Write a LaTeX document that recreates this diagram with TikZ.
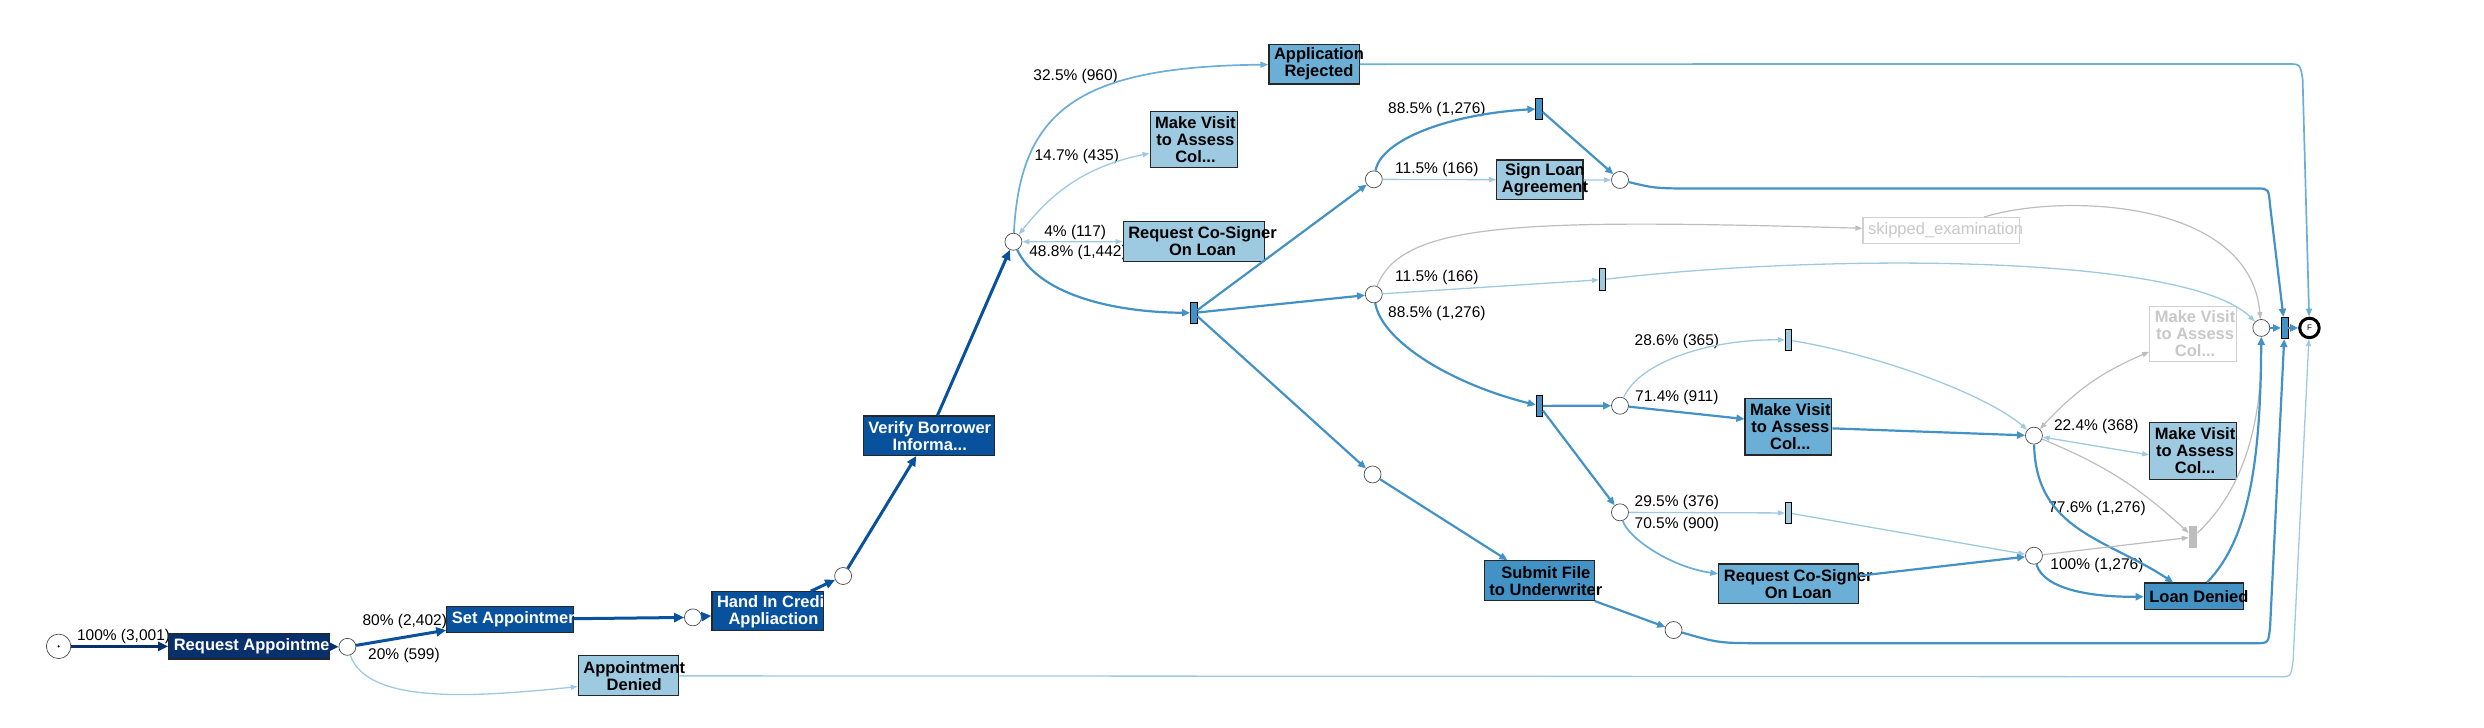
\documentclass[tikz,border=0pt]{standalone}
\usepackage{fontspec}
\setmainfont{Liberation Sans}
\usetikzlibrary{arrows.meta}
\definecolor{navy}{RGB}{8,48,107}
\definecolor{dblue}{RGB}{8,81,156}
\definecolor{mblue}{RGB}{66,146,198}
\definecolor{lblue}{RGB}{107,174,214}
\definecolor{pblue}{RGB}{158,202,225}
\definecolor{gline}{RGB}{189,189,189}
\definecolor{gtext}{RGB}{200,200,200}
\newcommand\boxfont{\fontsize{16.5}{17}\selectfont\bfseries}
\newcommand\lblfont{\fontsize{15.5}{17}\selectfont}
\tikzset{
  place/.style={circle, draw=black!70, fill=white, line width=0.7pt, minimum size=17pt, inner sep=0pt},
  bar/.style={rectangle, draw=black, line width=0.8pt, minimum width=6.5pt, minimum height=21.5pt, inner sep=0pt},
  task/.style={rectangle, draw=black!85, line width=1.2pt, inner sep=0pt},
  ghost/.style={rectangle, draw=black!18, fill=white, line width=1.2pt, inner sep=0pt},
  sz/.style 2 args={minimum width=#1pt, minimum height=#2pt},
  tasktext/.style={font=\boxfont, align=center, inner sep=0pt, anchor=west, xshift=5.5pt},
  txt/.style={label={[tasktext]180:#1}},
  wtxt/.style={label={[tasktext,text=white]180:#1}},
  gtxt/.style={label={[tasktext,text=gtext]180:#1}},
  lbl/.style={font=\lblfont, inner sep=0pt},
  e1/.style={draw=navy, line width=3.5pt, >={Triangle[length=10pt,width=9pt]}},
  e2/.style={draw=dblue, line width=3pt, >={Triangle[length=10pt,width=9pt]}},
  em/.style={draw=mblue, line width=2.2pt, >={Triangle[length=8pt,width=7pt]}},
  el/.style={draw=lblue, line width=1.7pt, >={Triangle[length=8pt,width=6pt]}},
  ep/.style={draw=pblue, line width=1.3pt, >={Triangle[length=7pt,width=5pt]}},
  eg/.style={draw=gline, line width=1.2pt, >={Triangle[length=7pt,width=5pt]}}
}
\begin{document}
\begin{tikzpicture}[x=1.5842pt,y=-1.5842pt]
\useasboundingbox (0,0) rectangle (1568,459.5);

\node[lbl] (l1) at (78,402) {100\% (3,001)};
\node[lbl] (l2) at (255.5,392.5) {80\% (2,402)};
\node[lbl] (l3) at (255,414) {20\% (599)};
\node[lbl] (l4) at (679,48) {32.5\% (960)};
\node[lbl] (l5) at (679.7,99) {14.7\% (435)};
\node[lbl] (l6) at (678.7,147) {4\% (117)};
\node[lbl] (l7) at (680.5,159.5) {48.8\% (1,442)};
\node[lbl] (l8) at (907,69) {88.5\% (1,276)};
\node[lbl] (l9) at (907,107.3) {11.5\% (166)};
\node[lbl] (l10) at (907,175.3) {11.5\% (166)};
\node[lbl] (l11) at (907,198) {88.5\% (1,276)};
\node[lbl] (l12) at (1058.5,215.5) {28.6\% (365)};
\node[lbl] (l13) at (1058.5,250.8) {71.4\% (911)};
\node[lbl] (l14) at (1058.5,317.3) {29.5\% (376)};
\node[lbl] (l15) at (1058.5,330.8) {70.5\% (900)};
\node[lbl] (l16) at (1323.2,269.4) {22.4\% (368)};
\node[lbl] (l17) at (1323.7,321) {77.6\% (1,276)};
\node[lbl] (l18) at (1323.7,356.7) {100\% (1,276)};

\node[task, sz={160.6}{25.3}, fill=navy, wtxt={Request Appointment}] (ra) at (157.2,408) {};
\node[task, sz={126.3}{26.6}, fill=dblue, wtxt={Set Appointment}] (sa) at (321.9,391) {};
\node[task, sz={111.8}{39.1}, fill=dblue, wtxt={Hand In Credit\\Appliaction}] (hi) at (484.7,385.9) {};
\node[task, sz={131}{39.4}, fill=dblue, wtxt={Verify Borrower\\Informa...}] (vb) at (586.2,275) {};
\node[task, sz={90.3}{39.6}, fill=lblue, txt={Application\\Rejected}] (ar) at (829.5,40.5) {};
\node[task, sz={87.1}{56.2}, fill=pblue, txt={Make Visit\\to Assess\\Col...}] (mvt) at (753.5,88.2) {};
\node[task, sz={141}{39.6}, fill=pblue, txt={Request Co-Signer\\On Loan}] (rct) at (753.5,152.5) {};
\node[task, sz={86.2}{39.6}, fill=pblue, txt={Sign Loan\\Agreement}] (sl) at (972,113.5) {};
\node[ghost, sz={156.8}{25.7}, label={[tasktext,font=\fontsize{16.5}{17}\selectfont,text=gtext]180:skipped\_examination}] (sk) at (1225.5,145.5) {};
\node[task, sz={110}{39.6}, fill=mblue, txt={Submit File\\to Underwriter}] (sf) at (971.7,366.5) {};
\node[task, sz={86.8}{56.6}, fill=lblue, txt={Make Visit\\to Assess\\Col...}] (mvm) at (1128.9,269.4) {};
\node[task, sz={139.4}{39.4}, fill=lblue, txt={Request Co-Signer\\On Loan}] (rcm) at (1129,368.5) {};
\node[ghost, sz={87.1}{55.6}, gtxt={Make Visit\\to Assess\\Col...}] (mvg) at (1384.5,210.8) {};
\node[task, sz={87.1}{56.7}, fill=pblue, txt={Make Visit\\to Assess\\Col...}] (mvr) at (1384.5,284.7) {};
\node[task, sz={99}{26.1}, fill=mblue, txt={Loan Denied}] (ld) at (1384.8,376.3) {};
\node[task, sz={100.4}{40}, fill=pblue, txt={Appointment\\Denied}] (ad) at (396.7,426.6) {};

\node[place, minimum size=24.5pt] (st) at (37,408) {};
\fill (st) circle (1.2pt);
\node[place] (p1) at (219.3,408.3) {};
\node[place] (p2) at (437.4,389.7) {};
\node[place] (p3) at (532.2,363.6) {};
\node[place] (p4) at (639.7,152.6) {};
\node[place] (pu) at (867.2,113.2) {};
\node[place] (pm) at (867.2,185.8) {};
\node[place] (pl) at (866.4,299.5) {};
\node[place] (ps) at (1022.6,113.6) {};
\node[place] (pa) at (1022.6,256.1) {};
\node[place] (pc) at (1022.6,323.4) {};
\node[place] (pb) at (1283.9,275) {};
\node[place] (pd) at (1283.9,350.8) {};
\node[place] (pf) at (1056.4,397.7) {};
\node[place] (pj) at (1427.4,207) {};
\node[place, draw=black, line width=3pt, minimum size=19.5pt, font=\fontsize{8}{8}\selectfont] (f) at (1457.8,207) {F};

\node[bar, fill=mblue] (tand) at (753.5,197.5) {};
\node[bar, fill=mblue] (t1) at (971.5,68.7) {};
\node[bar, fill=pblue] (tl1) at (1011.6,176.5) {};
\node[bar, fill=mblue] (t2) at (971.7,256.2) {};
\node[bar, fill=pblue] (tl2) at (1129,214.6) {};
\node[bar, fill=pblue] (tl3) at (1129,323.8) {};
\node[bar, draw=none, fill=gline, minimum width=8pt] (tg) at (1384.4,339) {};
\node[bar, fill=mblue] (tj) at (1442.2,207) {};

\draw[e1,->] (st) -- (ra);
\draw[e1,->] (ra) -- (p1);
\draw[e2,->] (p1) -- (sa);
\draw[ep,->] (p1) .. controls (232,445) and (300,440) .. (ad.192);
\draw[e2,->] (sa) -- (p2);
\draw[e2,->] (p2) -- (hi);
\draw[e2,->] (hi) -- (p3);
\draw[e2,->] (p3) -- (vb);
\draw[e2,->] (vb) -- (p4);
\draw[el,->] (p4) .. controls (644,70) and (680,42) .. (ar);
\draw[ep,<->] (p4) to[bend left=20] (mvt.197);
\draw[ep,<->] (p4) -- (rct);
\draw[em,->] (p4) .. controls (655,185) and (700,197) .. (tand);
\draw[em,->] (tand) -- (pu);
\draw[em,->] (tand) -- (pm);
\draw[em,->] (tand) -- (pl);
\draw[em,->] (pu) .. controls (872,88) and (915,72) .. (t1);
\draw[ep,->] (pu) -- (sl);
\draw[em,->] (t1) -- (ps);
\draw[ep,->] (sl) -- (ps);
\draw[em,->] (ps) .. controls (1045,119) .. (1075,119) -- (1425,119) .. controls (1432,119) .. (1433,130) -- (tj);
\draw[eg,->] (pm) .. controls (885,140) and (960,138) .. (sk);
\draw[eg,->] (sk) .. controls (1300,122) and (1420,125) .. (pj);
\draw[ep,->] (pm) -- (tl1);
\draw[ep,->] (tl1) .. controls (1150,160) and (1380,160) .. (pj);
\draw[em,->] (pm) .. controls (872,215) and (915,242) .. (t2);
\draw[em,->] (t2) -- (pa);
\draw[em,->] (t2) -- (pc);
\draw[ep,->] (pa) .. controls (1035,228) and (1080,214) .. (tl2);
\draw[em,->] (pa) -- (mvm.170);
\draw[ep,->] (tl2) .. controls (1190,225) and (1255,250) .. (pb);
\draw[em,->] (mvm) -- (pb);
\draw[eg,<->] (pb) to[bend left=12] (mvg.202);
\draw[ep,<->] (pb) -- (mvr.185);
\draw[eg,->] (pb) to[bend left=10] (tg);
\draw[em,->] (pb) .. controls (1285,335) and (1330,340) .. (ld);
\draw[ep,->] (pc) -- (tl3);
\draw[el,->] (pc) .. controls (1028,340) and (1055,358) .. (rcm);
\draw[ep,->] (tl3) -- (pd);
\draw[em,->] (rcm) -- (pd);
\draw[eg,->] (pd) -- (tg);
\draw[em,->] (pd) .. controls (1290,372) and (1320,377) .. (ld);
\draw[eg,->] (tg) .. controls (1415,310) and (1428,270) .. (pj);
\draw[em,->] (ld) .. controls (1420,340) and (1427,290) .. (pj);
\draw[em,->] (pj) -- (tj);
\draw[em,->] (tj) -- (f);
\draw[em,->] (pl) -- (sf);
\draw[em,->] (sf) -- (pf);
\draw[em,->] (pf) .. controls (1085,406) .. (1115,406) -- (1424,406) .. controls (1432,406) .. (1433,395) -- (tj);
\draw[el,->] (ar) -- (1444,40.4) .. controls (1452,40.4) .. (1453.5,50) -- (f);
\draw[ep,->] (ad) -- (1440,427.2) .. controls (1446,427.2) .. (1447.5,417) -- (f);
\end{tikzpicture}
\end{document}
